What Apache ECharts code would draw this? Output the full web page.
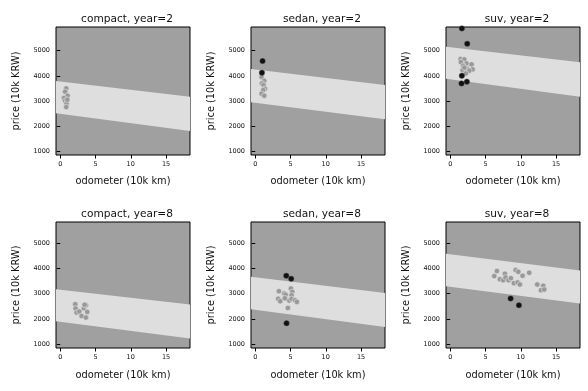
<!DOCTYPE html>
<html>
<head>
<meta charset="utf-8">
<script src="https://cdn.jsdelivr.net/npm/echarts@6/dist/echarts.min.js"></script>
<style>
  html, body { margin: 0; padding: 0; background: #fff; }
  #main { width: 588px; height: 391px; }
</style>
</head>
<body>
<div id="main"></div>
<script>
const titles = ['compact, year=2', 'sedan, year=2', 'suv, year=2',
                'compact, year=8', 'sedan, year=8', 'suv, year=8'];

// band edges at the left/right of the x range
const bandX = [-0.6, 18.4];
const upperL = [3800, 4275, 5158, 3179, 3669, 4586];
const upperR = [3178, 3642, 4540, 2570, 3032, 3924];
const lowerL = [2521, 2956, 3891, 1904, 2382, 3299];
const lowerR = [1820, 2283, 3178, 1215, 1677, 2610];

const inliers = [
  [[0.85, 3508], [0.7, 3376], [1.04, 3218], [0.52, 3125], [0.7, 3020], [0.9, 2914], [0.85, 2769], [1.0, 3060]],
  [[0.9, 3957], [1.28, 3812], [0.95, 3706], [1.18, 3640], [1.37, 3495], [1.13, 3442], [0.9, 3297], [1.28, 3218]],
  [[1.47, 4670], [1.99, 4657], [1.51, 4551], [2.32, 4498], [1.84, 4406], [3.03, 4459], [1.75, 4234],
   [2.41, 4274], [3.17, 4261], [2.7, 4208], [2.22, 4102], [2.0, 4330]],
  [[2.13, 2581], [2.18, 2409], [2.32, 2249], [2.7, 2289], [3.03, 2116], [3.36, 2422], [3.64, 2542],
   [3.83, 2276], [3.64, 2050], [3.45, 2560]],
  [[3.36, 3100], [3.26, 2794], [3.55, 2701], [4.11, 3007], [4.3, 2960], [5.06, 3206], [5.25, 3073],
   [5.15, 2940], [4.82, 2728], [5.15, 2794], [5.63, 2741], [5.91, 2674], [4.63, 2435], [4.2, 2820]],
  [[6.24, 3698], [6.62, 3897], [7.04, 3578], [7.52, 3538], [7.75, 3791], [7.85, 3645], [8.27, 3538],
   [8.6, 3618], [9.03, 3419], [9.27, 3937], [9.65, 3870], [9.55, 3445], [9.88, 3365], [10.26, 3711],
   [11.2, 3831], [12.34, 3365], [13.19, 3312], [12.86, 3140], [13.33, 3166]]
];

const outliers = [
  [],
  [[1.04, 4591], [0.95, 4129]],
  [[1.65, 5884], [2.41, 5277], [1.65, 4010], [1.6, 3706], [2.36, 3772]],
  [],
  [[4.4, 3711], [5.1, 3591], [4.44, 1824]],
  [[8.56, 2807], [9.74, 2542]]
];

const xTicks = [0, 5, 10, 15];
const yTicks = [1000, 2000, 3000, 4000, 5000];

const chart = echarts.init(document.getElementById('main'));

const lefts = [56, 251, 446];
const rowTop = [27, 222];
const rowH = [128, 126];
const rowY = [[870, 5940], [841, 5849]];
const font = 'DejaVu Sans';

const grid = [], xAxis = [], yAxis = [], series = [], title = [];

titles.forEach(function (t, i) {
  const row = Math.floor(i / 3), col = i % 3;
  grid.push({
    left: lefts[col], top: rowTop[row], width: 134, height: rowH[row],
    show: true, backgroundColor: '#a0a0a0', borderColor: '#000', borderWidth: 1
  });
  title.push({
    text: t, left: lefts[col] + 66, top: rowTop[row] - 18, textAlign: 'center',
    textStyle: { fontFamily: font, fontSize: 10.6, fontWeight: 'normal', color: '#111' }
  });
  xAxis.push({
    type: 'value', gridIndex: i, min: bandX[0], max: bandX[1],
    name: 'odometer (10k km)', nameLocation: 'middle', nameGap: row ? 22 : 21,
    nameTextStyle: { fontFamily: font, fontSize: 9.8, color: '#111' },
    splitLine: { show: false }, axisLine: { show: false },
    axisTick: { show: true, length: 3.5, customValues: xTicks, lineStyle: { color: '#000' } },
    axisLabel: { customValues: xTicks, fontFamily: font, fontSize: 6.5, color: '#111', margin: 6 }
  });
  yAxis.push({
    type: 'value', gridIndex: i, min: rowY[row][0], max: rowY[row][1],
    name: 'price (10k KRW)', nameLocation: 'middle', nameGap: 35,
    nameTextStyle: { fontFamily: font, fontSize: 9.8, color: '#111' },
    splitLine: { show: false }, axisLine: { show: false },
    axisTick: { show: true, length: 3.5, customValues: yTicks, lineStyle: { color: '#000' } },
    axisLabel: {
      customValues: yTicks, fontFamily: font, fontSize: 6.5, color: '#111', margin: 6,
      formatter: function (v) { return String(v); }
    }
  });
  series.push({
    type: 'custom', xAxisIndex: i, yAxisIndex: i, silent: true, z: 1,
    data: [[bandX[0], upperL[i], bandX[1], upperR[i], lowerL[i], lowerR[i]]],
    renderItem: function (params, api) {
      const p1 = api.coord([api.value(0), api.value(1)]);
      const p2 = api.coord([api.value(2), api.value(3)]);
      const p3 = api.coord([api.value(2), api.value(5)]);
      const p4 = api.coord([api.value(0), api.value(4)]);
      return {
        type: 'polygon',
        shape: { points: [p1, p2, p3, p4] },
        style: { fill: '#dedede' }
      };
    }
  });
  series.push({
    type: 'scatter', xAxisIndex: i, yAxisIndex: i, z: 3, data: inliers[i],
    symbolSize: 5.5,
    itemStyle: { color: '#999999', borderColor: '#e4e4e4', borderWidth: 0.6, opacity: 1 }
  });
  series.push({
    type: 'scatter', xAxisIndex: i, yAxisIndex: i, z: 4, data: outliers[i],
    symbolSize: 5.5,
    itemStyle: { color: '#111111', borderColor: '#555', borderWidth: 0.4, opacity: 1 }
  });
});

chart.setOption({
  animation: false,
  backgroundColor: '#fff',
  title: title,
  grid: grid,
  xAxis: xAxis,
  yAxis: yAxis,
  series: series
});
</script>
</body>
</html>
